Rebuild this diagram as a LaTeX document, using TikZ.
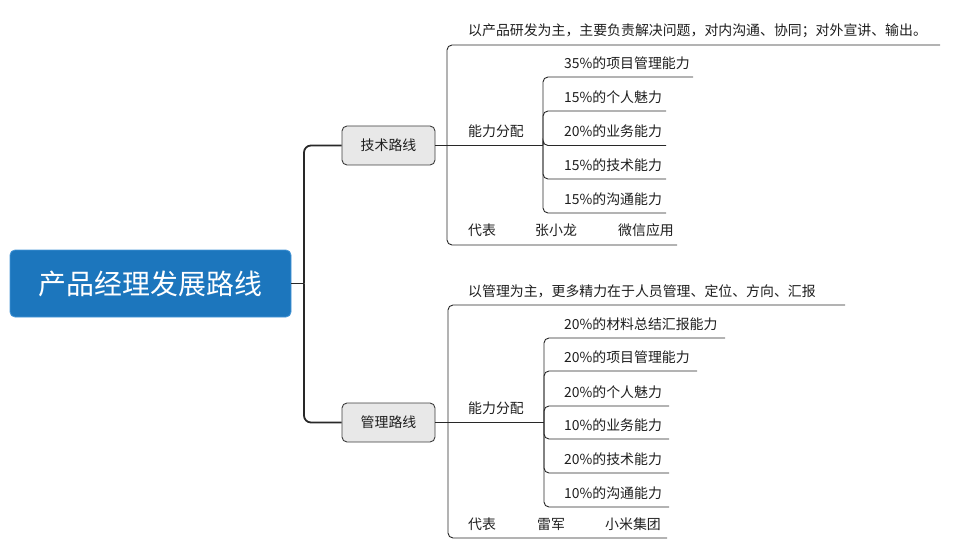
\documentclass[tikz,border=0pt]{standalone}
\usepackage{fontspec}
\setmainfont{Noto Sans CJK SC}
\definecolor{rootblue}{RGB}{28,118,189}
\definecolor{rootedge}{RGB}{70,150,215}
\definecolor{boxfill}{RGB}{232,232,232}
\definecolor{linec}{RGB}{40,40,40}
\definecolor{txt}{RGB}{30,30,30}
\tikzset{
  rootnode/.style={fill=rootblue,draw=rootedge,line width=0.8pt,rounded corners=5pt,minimum width=281pt,minimum height=67pt,text=white,font=\fontsize{27.9}{32}\selectfont,inner sep=0pt},
  boxnode/.style={fill=boxfill,draw=linec!90,line width=0.9pt,rounded corners=5pt,minimum width=93pt,minimum height=39pt,text=txt,font=\fontsize{13.9}{16}\selectfont,inner sep=0pt},
  lbl/.style={anchor=west,inner sep=0pt,text height=0.88em,text depth=0.12em,text=txt,font=\fontsize{13.9}{16}\selectfont},
  trunkline/.style={draw=linec,line width=1.8pt,rounded corners=7pt},
  branch/.style={draw=linec,line width=0.9pt,rounded corners=5pt},
}
\begin{document}
\begin{tikzpicture}[x=1pt,y=-1pt]
\useasboundingbox (0,0) rectangle (963,556);
% root and main branches
\node[rootnode] (root) at (150.5,283.5) {产品经理发展路线};
\node[boxnode] (tech) at (388.5,145.5) {技术路线};
\node[boxnode] (mgmt) at (388.5,422.5) {管理路线};
\coordinate (trunk) at (304,283.5);
\draw[trunkline] (root.east) -- (trunk);
\draw[trunkline] (trunk) |- (tech.west);
\draw[trunkline] (trunk) |- (mgmt.west);

% ===== upper branch =====
\coordinate (tj) at (447,145.5);
\draw[branch] (tech.east) -- (tj);
\node[lbl] (tdesc) at (468,32) {以产品研发为主，主要负责解决问题，对内沟通、协同；对外宣讲、输出。};
\coordinate (tdesce) at (940,45);
\draw[branch] (tj) |- (tdesce);
\node[lbl] (tabil) at (468,133) {能力分配};
\coordinate (tsj) at (543,145.5);
\draw[branch] (tj) -- (tsj);
\node[lbl] (trep) at (468,232) {代表};
\node[lbl] (trep2) at (535,232) {张小龙};
\node[lbl] (trep3) at (618,232) {微信应用};
\coordinate (trepe) at (677,245);
\draw[branch] (tj) |- (trepe);
\foreach \i/\ly/\ex/\t in {1/77/693/35\%的项目管理能力, 2/111/666/15\%的个人魅力, 3/145.5/666/20\%的业务能力, 4/179/666/15\%的技术能力, 5/213/666/15\%的沟通能力}{
  \node[lbl] (tc\i) at (564,\ly-12.5) {\t};
  \coordinate (tce\i) at (\ex,\ly);
  \draw[branch] (tsj) |- (tce\i);
}

% ===== lower branch =====
\coordinate (mj) at (448,422.5);
\draw[branch] (mgmt.east) -- (mj);
\node[lbl] (mdesc) at (468,293) {以管理为主，更多精力在于人员管理、定位、方向、汇报};
\coordinate (mdesce) at (845,305);
\draw[branch] (mj) |- (mdesce);
\node[lbl] (mabil) at (468,410) {能力分配};
\coordinate (msj) at (544,422.5);
\draw[branch] (mj) -- (msj);
\node[lbl] (mrep) at (468,526) {代表};
\node[lbl] (mrep2) at (537,526) {雷军};
\node[lbl] (mrep3) at (605,526) {小米集团};
\coordinate (mrepe) at (667,538);
\draw[branch] (mj) |- (mrepe);
\foreach \i/\ly/\ex/\t in {1/338/725/20\%的材料总结汇报能力, 2/371/697/20\%的项目管理能力, 3/406/669/20\%的个人魅力, 4/439/669/10\%的业务能力, 5/473/669/20\%的技术能力, 6/507/669/10\%的沟通能力}{
  \node[lbl] (mc\i) at (564,\ly-12.5) {\t};
  \coordinate (mce\i) at (\ex,\ly);
  \draw[branch] (msj) |- (mce\i);
}
\end{tikzpicture}
\end{document}
